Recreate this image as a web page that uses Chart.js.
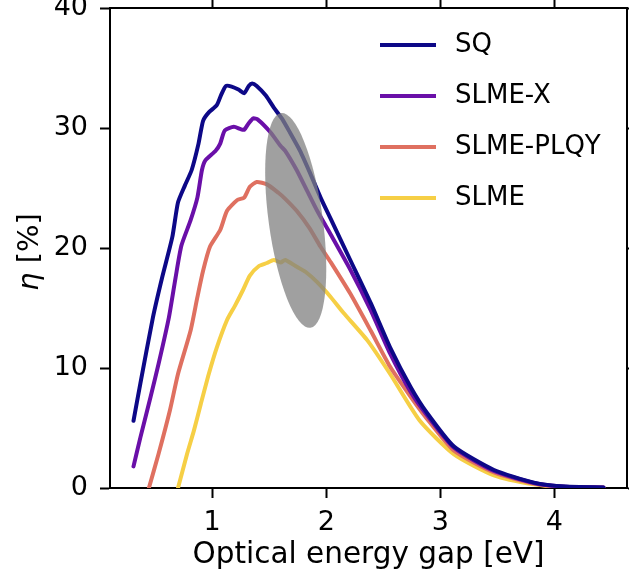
<!DOCTYPE html>
<html>
<head>
<meta charset="utf-8">
<script src="https://cdn.jsdelivr.net/npm/chart.js@4.4.1/dist/chart.umd.min.js"></script>
<style>
  html, body { margin: 0; padding: 0; background: #fff; overflow: hidden; }
</style>
</head>
<body>
<canvas id="chart" width="629" height="579"></canvas>
<script>
/* =========================
   DATA
========================= */

const xTicks = [1, 2, 3, 4];
const yTicks = [0, 10, 20, 30, 40];
const xLimits = [0.104, 4.636];
const yLimits = [0, 40];

const seriesLabels = ["SQ", "SLME-X", "SLME-PLQY", "SLME"];
const seriesColors = ["#0d0887", "#6a0fa8", "#df7060", "#f6cf45"];

const sqGap = [0.31, 0.37, 0.48, 0.56, 0.65, 0.70, 0.76, 0.82, 0.88, 0.92, 0.97, 1.04, 1.08, 1.12, 1.17, 1.23, 1.28, 1.32, 1.35, 1.39, 1.47, 1.54, 1.61, 1.68, 1.77, 1.86, 1.95, 2.04, 2.21, 2.39, 2.56, 2.74, 2.88, 3.12, 3.47, 3.82, 4.10, 4.43];
const sqEff = [5.6, 8.7, 14.2, 17.5, 20.9, 23.8, 25.2, 26.5, 28.7, 30.6, 31.3, 31.9, 32.8, 33.5, 33.45, 33.2, 32.9, 33.5, 33.7, 33.5, 32.7, 31.7, 30.8, 29.65, 28.1, 26.2, 24.2, 22.4, 19.0, 15.4, 11.7, 8.4, 6.3, 3.45, 1.5, 0.45, 0.12, 0.05];

const slmeXGap = [0.31, 0.37, 0.46, 0.53, 0.62, 0.68, 0.73, 0.81, 0.87, 0.91, 0.94, 1.03, 1.07, 1.11, 1.19, 1.25, 1.28, 1.32, 1.36, 1.40, 1.51, 1.60, 1.64, 1.74, 1.83, 1.92, 2.04, 2.21, 2.39, 2.56, 2.74, 2.88, 3.12, 3.47, 3.82, 4.10, 4.43];
const slmeXEff = [1.8, 4.2, 7.6, 10.35, 14.2, 17.6, 20.2, 22.3, 24.2, 26.5, 27.3, 28.1, 28.7, 29.8, 30.1, 29.9, 29.85, 30.4, 30.8, 30.7, 29.65, 28.5, 28.1, 26.5, 24.8, 23.1, 21.1, 18.2, 14.8, 11.2, 8.0, 6.1, 3.35, 1.42, 0.42, 0.1, 0.05];

const plqyGap = [0.445, 0.53, 0.63, 0.70, 0.81, 0.87, 0.92, 0.98, 1.07, 1.13, 1.22, 1.28, 1.33, 1.39, 1.48, 1.58, 1.64, 1.74, 1.85, 1.95, 2.04, 2.21, 2.39, 2.56, 2.74, 2.88, 3.12, 3.47, 3.82, 4.10, 4.43];
const plqyEff = [0, 2.85, 6.5, 9.5, 13.1, 15.9, 18.1, 20.1, 21.5, 23.1, 24.0, 24.2, 25.1, 25.5, 25.3, 24.6, 24.1, 23.1, 21.7, 20.1, 18.8, 16.2, 13.1, 10.1, 7.6, 5.8, 3.1, 1.3, 0.38, 0.08, 0.04];

const slmeGap = [0.70, 0.78, 0.84, 0.90, 0.97, 1.04, 1.13, 1.20, 1.27, 1.33, 1.41, 1.48, 1.54, 1.60, 1.64, 1.73, 1.82, 1.92, 2.04, 2.15, 2.36, 2.56, 2.82, 3.12, 3.47, 3.82, 4.10, 4.43];
const slmeEff = [0, 2.85, 4.8, 7.0, 9.5, 11.7, 14.0, 15.2, 16.5, 17.7, 18.5, 18.75, 19.0, 18.8, 19.0, 18.5, 18.0, 17.15, 15.9, 14.6, 12.3, 9.5, 5.6, 2.8, 1.05, 0.3, 0.05, 0.03];

// shaded region: centre (eV, %), half axes (minor in eV, major in %), tilt in degrees
const ellipseCenter = [1.732, 22.3];
const ellipseHalfMinor = 0.237;
const ellipseHalfMajor = 9.03;
const ellipseTilt = -7.8;


/* =========================
   PLUGINS
========================= */

const FONT = "'DejaVu Sans', sans-serif";

const ellipsePlugin = {
  id: "shadedEllipse",
  afterDatasetsDraw(chart) {
    const { ctx, scales: { x, y } } = chart;
    const cx = x.getPixelForValue(ellipseCenter[0]);
    const cy = y.getPixelForValue(ellipseCenter[1]);
    const rx = Math.abs(x.getPixelForValue(ellipseCenter[0] + ellipseHalfMinor) - cx);
    const ry = Math.abs(y.getPixelForValue(ellipseCenter[1] + ellipseHalfMajor) - cy);
    ctx.save();
    ctx.fillStyle = "rgba(128,128,128,0.75)";
    ctx.beginPath();
    ctx.ellipse(cx, cy, rx, ry, ellipseTilt * Math.PI / 180, 0, 2 * Math.PI);
    ctx.fill();
    ctx.restore();
  }
};

const legendPlugin = {
  id: "insideLegend",
  afterDraw(chart) {
    const ctx = chart.ctx;
    ctx.save();
    chart.data.datasets.forEach((ds, i) => {
      const yy = 45 + i * 51;
      ctx.strokeStyle = ds.borderColor;
      ctx.lineWidth = 4;
      ctx.beginPath();
      ctx.moveTo(380, yy);
      ctx.lineTo(436, yy);
      ctx.stroke();
      ctx.fillStyle = "#000";
      ctx.font = `26px ${FONT}`;
      ctx.textBaseline = "middle";
      ctx.textAlign = "left";
      ctx.fillText(ds.label, 455, yy);
    });
    ctx.restore();
  }
};

const yTitlePlugin = {
  id: "yTitle",
  afterDraw(chart) {
    const ctx = chart.ctx;
    const eta = "η";
    const rest = " [%]";
    ctx.save();
    ctx.translate(30, 252);
    ctx.rotate(-Math.PI / 2);
    ctx.fillStyle = "#000";
    ctx.textBaseline = "middle";
    ctx.textAlign = "left";
    ctx.font = `italic 29px ${FONT}`;
    const w1 = ctx.measureText(eta).width;
    ctx.font = `29px ${FONT}`;
    const w2 = ctx.measureText(rest).width;
    const start = -(w1 + w2) / 2;
    ctx.font = `italic 29px ${FONT}`;
    ctx.fillText(eta, start, 0);
    ctx.font = `29px ${FONT}`;
    ctx.fillText(rest, start + w1, 0);
    ctx.restore();
  }
};


/* =========================
   CHART
========================= */

function toPoints(xs, ys) {
  return xs.map((v, i) => ({ x: v, y: ys[i] }));
}

const seriesData = [
  toPoints(sqGap, sqEff),
  toPoints(slmeXGap, slmeXEff),
  toPoints(plqyGap, plqyEff),
  toPoints(slmeGap, slmeEff)
];

const tickGrid = {
  drawOnChartArea: false,
  drawTicks: true,
  tickLength: 10,
  tickWidth: 2,
  tickColor: "#000"
};
const spine = { display: true, color: "#000", width: 2 };

new Chart(document.getElementById("chart"), {
  type: "line",
  data: {
    datasets: seriesLabels.map((label, i) => ({
      label,
      data: seriesData[i],
      borderColor: seriesColors[i],
      backgroundColor: seriesColors[i],
      borderWidth: 4,
      borderJoinStyle: "round",
      borderCapStyle: "round",
      pointRadius: 0,
      tension: 0.2,
      fill: false
    }))
  },
  options: {
    responsive: false,
    animation: false,
    devicePixelRatio: 1,
    layout: { padding: 0 },
    plugins: {
      legend: { display: false },
      tooltip: { enabled: false }
    },
    scales: {
      x: {
        type: "linear",
        position: "bottom",
        min: xLimits[0],
        max: xLimits[1],
        afterBuildTicks: s => { s.ticks = xTicks.map(v => ({ value: v })); },
        ticks: { color: "#000", font: { family: FONT, size: 27 }, padding: 9, maxRotation: 0, autoSkip: false },
        grid: tickGrid,
        border: spine,
        title: {
          display: true,
          text: "Optical energy gap [eV]",
          color: "#000",
          font: { family: FONT, size: 29.5 },
          padding: { top: 0, bottom: 6 }
        },
        afterFit: s => { s.height = 91; s.paddingLeft = 0; s.paddingRight = 0; }
      },
      xTop: {
        type: "linear",
        position: "top",
        min: xLimits[0],
        max: xLimits[1],
        afterBuildTicks: s => { s.ticks = xTicks.map(v => ({ value: v })); },
        ticks: { display: false },
        grid: tickGrid,
        border: spine,
        afterFit: s => { s.height = 8; s.paddingLeft = 0; s.paddingRight = 0; }
      },
      y: {
        type: "linear",
        position: "left",
        min: yLimits[0],
        max: yLimits[1],
        afterBuildTicks: s => { s.ticks = yTicks.map(v => ({ value: v })); },
        ticks: { color: "#000", font: { family: FONT, size: 27 }, padding: 12 },
        grid: tickGrid,
        border: spine,
        afterFit: s => { s.width = 110; s.paddingTop = 0; s.paddingBottom = 0; }
      },
      yRight: {
        type: "linear",
        position: "right",
        min: yLimits[0],
        max: yLimits[1],
        afterBuildTicks: s => { s.ticks = yTicks.map(v => ({ value: v })); },
        ticks: { display: false },
        grid: tickGrid,
        border: spine,
        afterFit: s => { s.width = 2; s.paddingTop = 0; s.paddingBottom = 0; }
      }
    }
  },
  plugins: [ellipsePlugin, legendPlugin, yTitlePlugin]
});
</script>
</body>
</html>
